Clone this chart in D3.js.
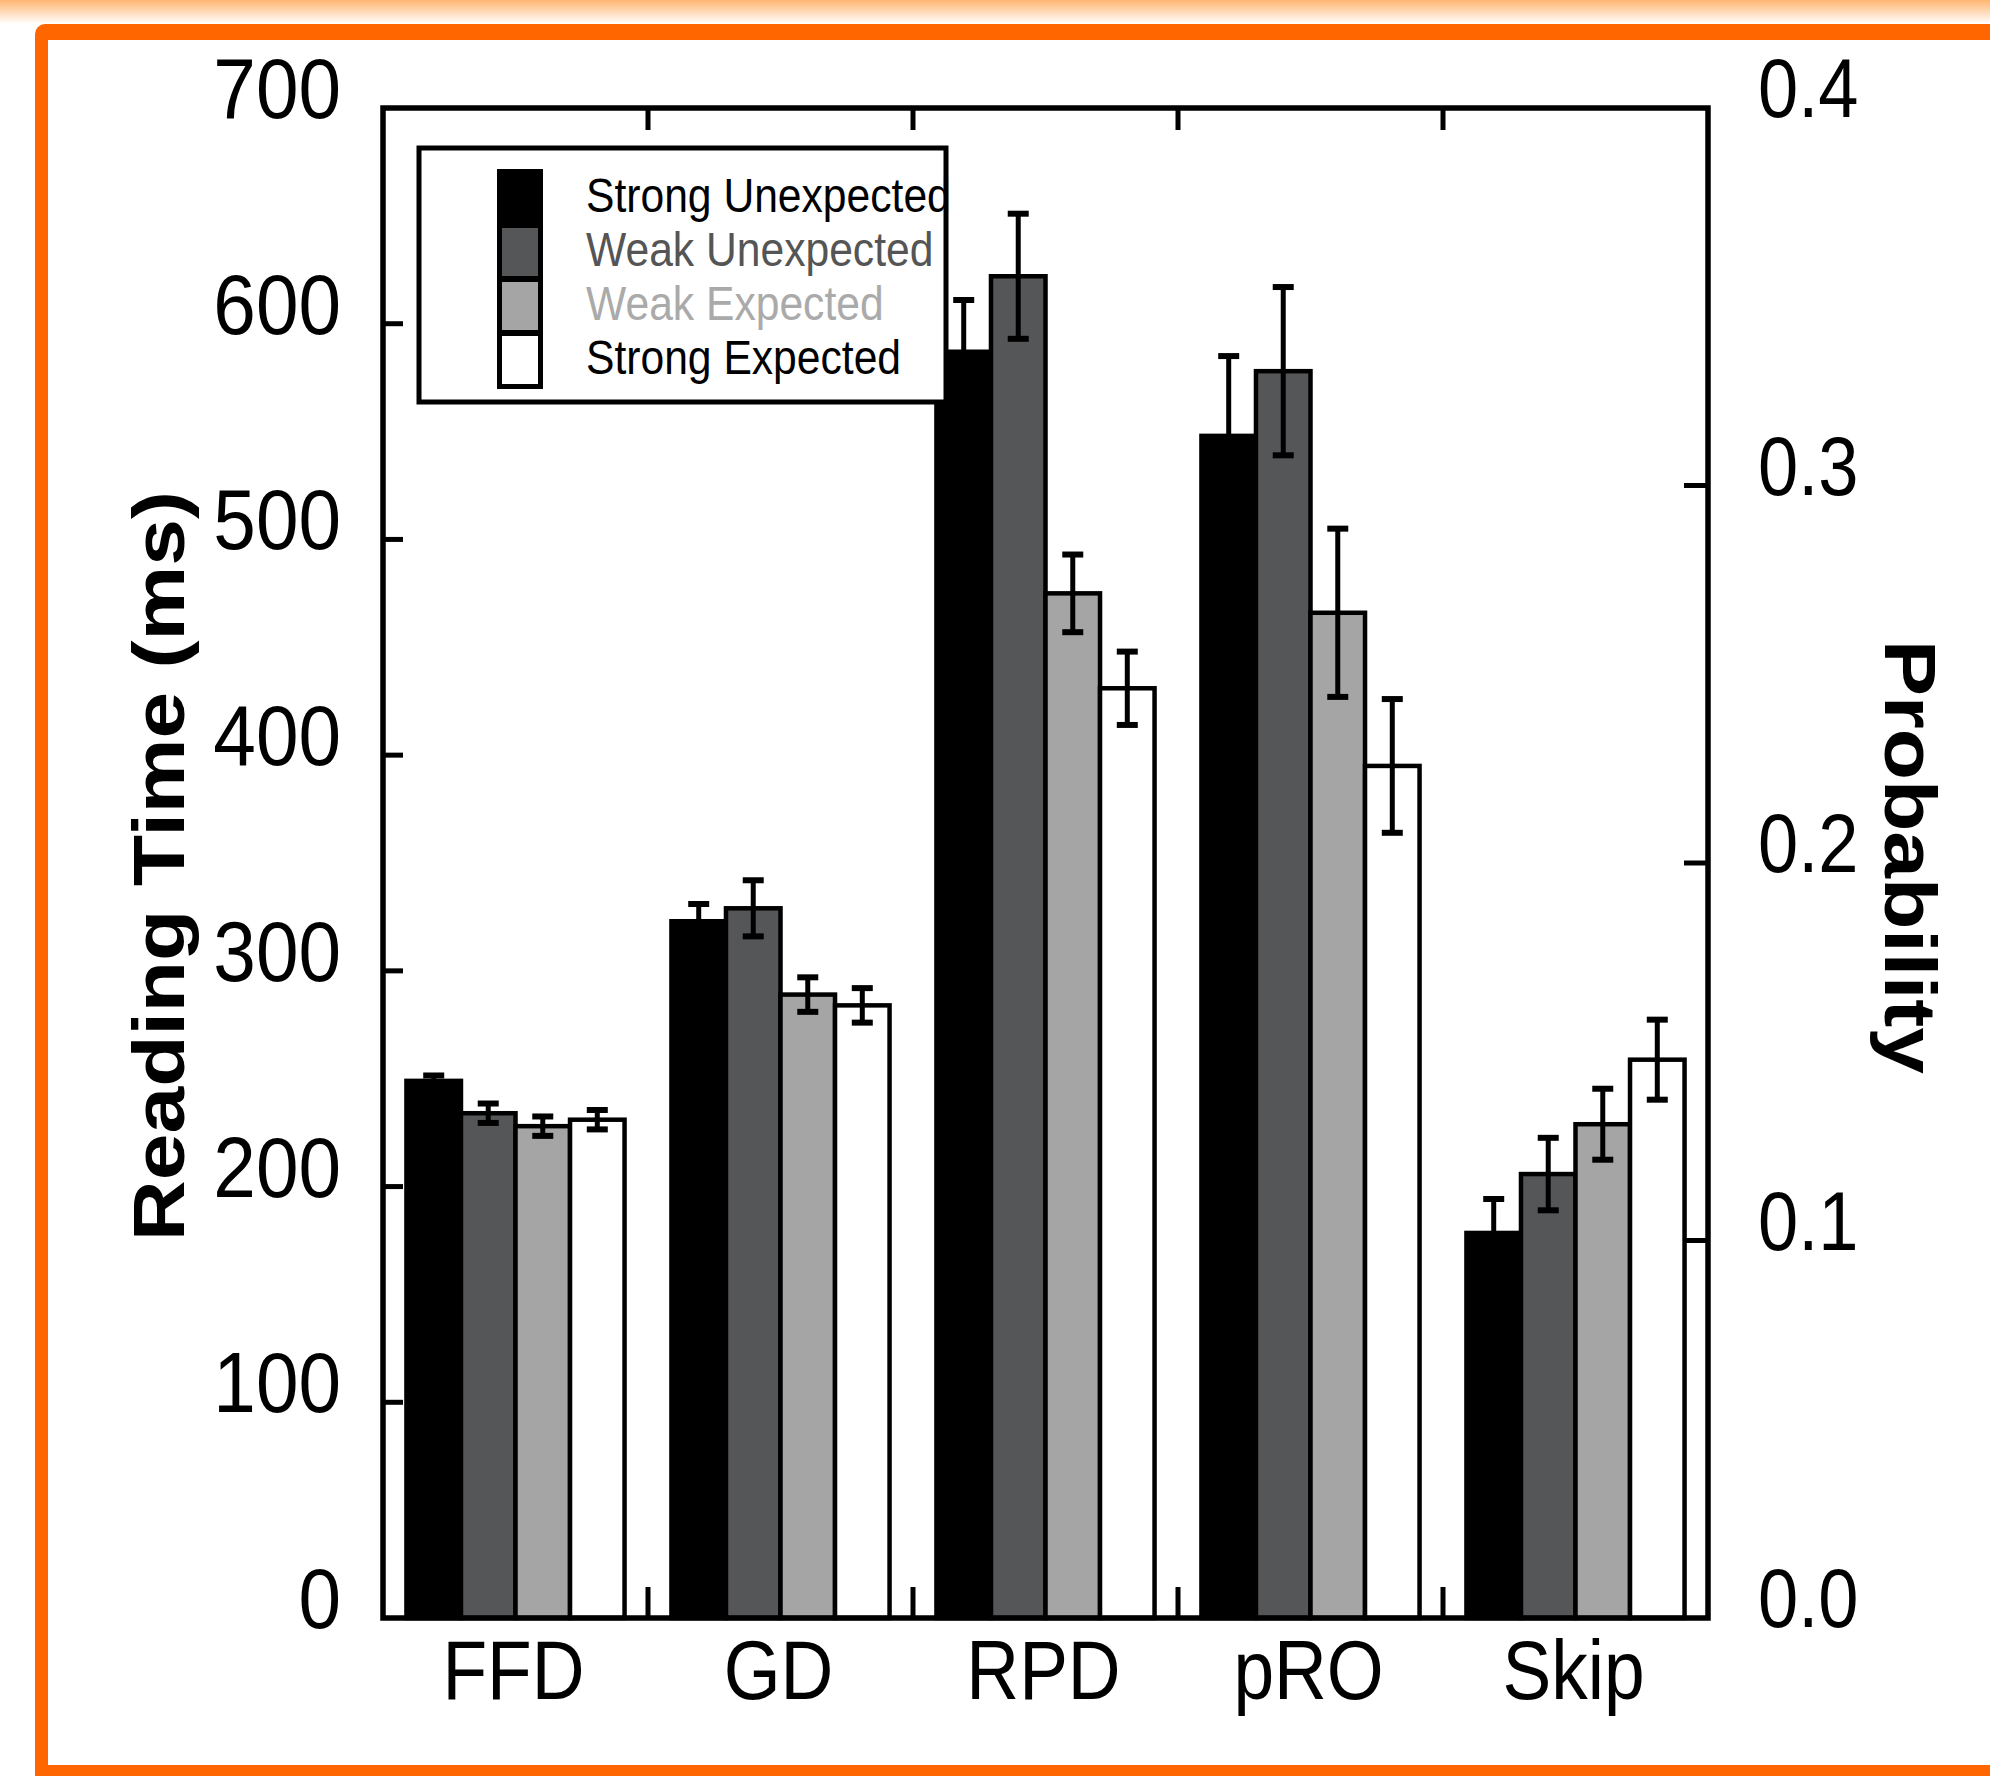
<!DOCTYPE html>
<meta charset="utf-8">
<script src="https://d3js.org/d3.v7.min.js"></script>
<style>
    body { margin: 0; background: #fff; }
    text { font-family: "Liberation Sans", Arial, sans-serif; }
</style>
<div id="vis"></div>
<script>
    // groups && conditions
    var groups = ["FFD", "GD", "RPD", "pRO", "Skip"];
    var onProbAxis = [false, false, false, false, true];
    var conditions = ["Strong Unexpected", "Weak Unexpected", "Weak Expected", "Strong Expected"];

    // means (ms, last one is a probability)
    var strongUnexp = [249, 323, 587, 548, 0.102];
    var weakUnexp = [234, 329, 622, 578, 0.1176];
    var weakExp = [228, 289, 475, 466, 0.1308];
    var strongExp = [231, 284, 431, 395, 0.1479];

    // error bars (half length)
    var strongUnexpErr = [2.5, 8, 24, 37, 0.009];
    var weakUnexpErr = [4.5, 13, 29, 39, 0.0096];
    var weakExpErr = [4.5, 8, 18, 39, 0.0094];
    var strongExpErr = [4.5, 8, 17, 31, 0.0106];

    // ticks
    var msTicks = [0, 100, 200, 300, 400, 500, 600, 700];
    var probTicks = [0, 0.1, 0.2, 0.3, 0.4];

    var means = [strongUnexp, weakUnexp, weakExp, strongExp];
    var errs = [strongUnexpErr, weakUnexpErr, weakExpErr, strongExpErr];
    var fills = ["#000000", "#555658", "#a5a5a5", "#ffffff"];
    var inks = ["#000000", "#555555", "#aaaaaa", "#000000"];
    var sx = 0.87; // squeezed text

    var W = 1990, H = 1776;
    var plot = { lft: 383, rgt: 1708, top: 108, btm: 1618 };

    var svg = d3.select("#vis").append("svg")
        .attr("width", W)
        .attr("height", H);

    // orange frame
    var defs = svg.append("defs");
    var grad = defs.append("linearGradient").attr("id", "fade")
        .attr("x1", 0).attr("y1", 0).attr("x2", 0).attr("y2", 1);
    grad.append("stop").attr("offset", "0%").attr("stop-color", "#ffb672");
    grad.append("stop").attr("offset", "100%").attr("stop-color", "#ffffff");
    svg.append("rect").attr("x", 0).attr("y", 0).attr("width", W).attr("height", 24)
        .attr("fill", "url(#fade)");
    svg.append("rect").attr("x", 35).attr("y", 24).attr("width", W + 40).attr("height", H - 24 + 40)
        .attr("rx", 10).attr("fill", "#ff6600");
    svg.append("rect").attr("x", 48).attr("y", 40).attr("width", W).attr("height", 1765 - 40)
        .attr("fill", "#ffffff");

    // scales
    var x = d3.scaleBand().domain(groups).range([plot.lft, plot.rgt]);
    var xi = d3.scaleBand().domain(conditions).range([0, x.bandwidth()])
        .paddingInner(0).paddingOuter(0.43);
    var y = d3.scaleLinear().domain([0, 700]).range([plot.btm, plot.top]);
    var yp = d3.scaleLinear().domain([0, 0.4]).range([plot.btm, plot.top]);

    var rows = [];
    conditions.forEach(function (c, ci) {
        groups.forEach(function (g, gi) {
            rows.push({ g: g, c: c, ci: ci, v: means[ci][gi], e: errs[ci][gi], prob: onProbAxis[gi] });
        });
    });
    function yOf(d, v) { return d.prob ? yp(v) : y(v); }

    // bars
    svg.append("g").selectAll("rect")
        .data(rows).enter().append("rect")
        .attr("x", function (d) { return x(d.g) + xi(d.c); })
        .attr("y", function (d) { return yOf(d, d.v); })
        .attr("width", xi.bandwidth())
        .attr("height", function (d) { return plot.btm - yOf(d, d.v); })
        .attr("fill", function (d) { return fills[d.ci]; })
        .attr("stroke", "#000")
        .attr("stroke-width", 4.5);

    // error bars
    var eb = svg.append("g").attr("stroke", "#000").attr("stroke-width", 5);
    rows.forEach(function (d) {
        var cx = x(d.g) + xi(d.c) + xi.bandwidth() / 2;
        var y1 = yOf(d, d.v + d.e), y2 = yOf(d, d.v - d.e);
        eb.append("line").attr("x1", cx).attr("x2", cx).attr("y1", y1).attr("y2", y2);
        eb.append("line").attr("x1", cx - 10.5).attr("x2", cx + 10.5).attr("y1", y1).attr("y2", y1).attr("stroke-width", 6);
        eb.append("line").attr("x1", cx - 10.5).attr("x2", cx + 10.5).attr("y1", y2).attr("y2", y2).attr("stroke-width", 6);
    });

    // frame && ticks
    svg.append("rect")
        .attr("x", plot.lft).attr("y", plot.top)
        .attr("width", plot.rgt - plot.lft).attr("height", plot.btm - plot.top)
        .attr("fill", "none").attr("stroke", "#000").attr("stroke-width", 5.5);

    var tk = svg.append("g").attr("stroke", "#000").attr("stroke-width", 5);
    msTicks.slice(1, -1).forEach(function (t) {
        tk.append("line").attr("x1", plot.lft).attr("x2", plot.lft + 20).attr("y1", y(t)).attr("y2", y(t));
    });
    probTicks.slice(1, -1).forEach(function (t) {
        tk.append("line").attr("x1", plot.rgt).attr("x2", plot.rgt - 24).attr("y1", yp(t)).attr("y2", yp(t));
    });
    groups.slice(1).forEach(function (g) {
        tk.append("line").attr("x1", x(g)).attr("x2", x(g)).attr("y1", plot.top).attr("y2", plot.top + 22);
        tk.append("line").attr("x1", x(g)).attr("x2", x(g)).attr("y1", plot.btm).attr("y2", plot.btm - 31);
    });

    // tick labels
    svg.append("g").selectAll("text")
        .data(msTicks).enter().append("text")
        .attr("transform", function (t) { return "translate(341," + (y(t) + 10) + ") scale(" + 0.9 + ",1)"; })
        .attr("text-anchor", "end")
        .style("font-size", "85px")
        .text(function (t) { return t; });
    svg.append("g").selectAll("text")
        .data(probTicks).enter().append("text")
        .attr("transform", function (t) { return "translate(1758," + (yp(t) + 9) + ") scale(" + sx + ",1)"; })
        .attr("text-anchor", "start")
        .style("font-size", "83px")
        .text(function (t) { return d3.format(".1f")(t); });
    svg.append("g").selectAll("text")
        .data(groups).enter().append("text")
        .attr("transform", function (g) { return "translate(" + (x(g) + x.bandwidth() / 2 - 2) + ",1699) scale(" + sx + ",1)"; })
        .attr("text-anchor", "middle")
        .style("font-size", "84px")
        .text(function (g) { return g; });

    // axis titles
    svg.append("text")
        .attr("transform", "translate(184,866) scale(" + sx + ",1) rotate(-90)")
        .attr("text-anchor", "middle")
        .style("font-size", "84px").style("font-weight", "bold")
        .text("Reading Time (ms)");
    svg.append("text")
        .attr("transform", "translate(1885,857) scale(" + sx + ",1) rotate(90)")
        .attr("text-anchor", "middle")
        .style("font-size", "84px").style("font-weight", "bold")
        .text("Probability");

    // legend
    var lg = svg.append("g");
    lg.append("rect")
        .attr("x", 419).attr("y", 148).attr("width", 527).attr("height", 254)
        .attr("fill", "#fff").attr("stroke", "#000").attr("stroke-width", 5);
    conditions.forEach(function (c, i) {
        var cy = 198 + 54 * i;
        lg.append("rect")
            .attr("x", 499.5).attr("y", cy - 26.5).attr("width", 41).attr("height", 53)
            .attr("fill", fills[i]).attr("stroke", "#000").attr("stroke-width", 5);
        lg.append("text")
            .attr("transform", "translate(586," + (cy + 14) + ") scale(" + sx + ",1)")
            .style("font-size", "49px")
            .attr("fill", inks[i])
            .text(c);
    });
</script>
